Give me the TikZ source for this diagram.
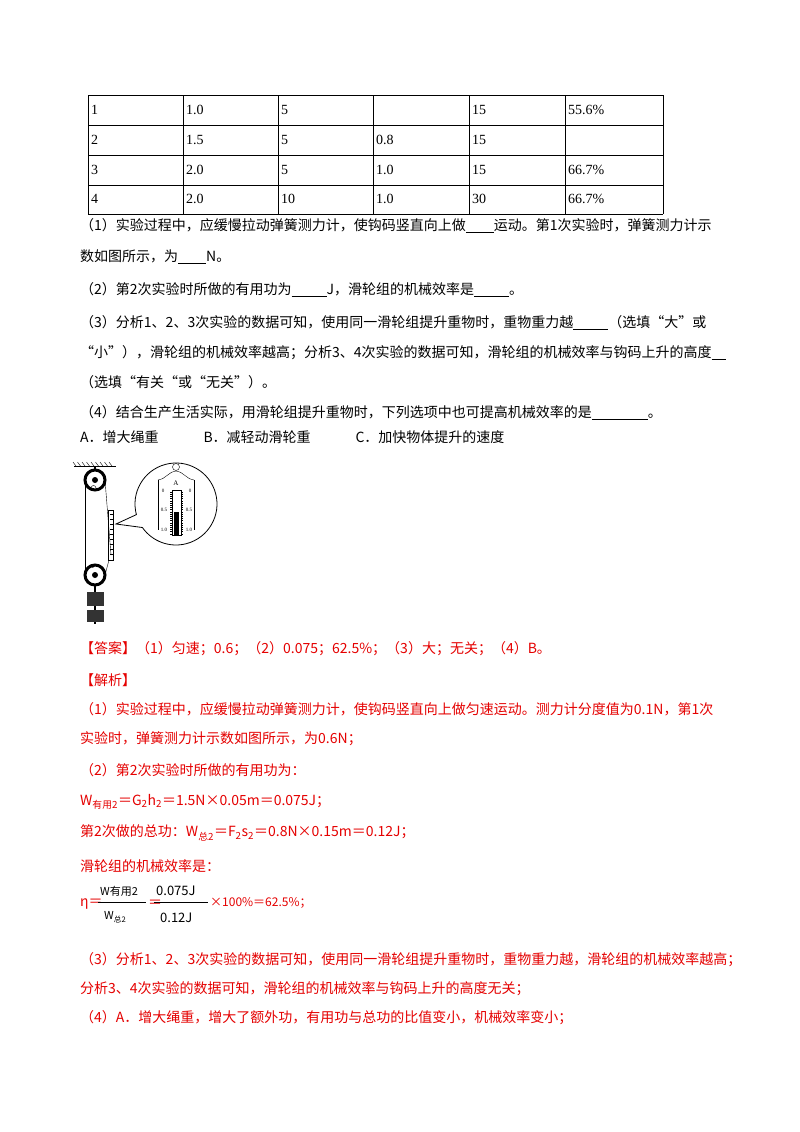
\documentclass[tikz,border=0pt]{standalone}
\usepackage{fontspec}
\usetikzlibrary{calc}
\setmainfont{Liberation Serif}
\newfontfamily\cjk{Noto Sans CJK SC}
\begin{document}
\begin{tikzpicture}[x=1pt,y=-1pt,
  ln/.style={anchor=west,inner sep=0,font=\cjk\fontsize{14}{16}\selectfont},
  rd/.style={ln,text=red!90!black},
  tc/.style={anchor=west,inner sep=0,font=\fontsize{14}{16}\selectfont}]
\useasboundingbox[fill=white] (0,0) rectangle (800,1132);
% table
\foreach \yy in {95,125,155,185,214} \draw (88,\yy)--(663,\yy);
\foreach \xx in {88,183,278,373,469,565,663} \draw (\xx,95)--(\xx,214);
\foreach \r/\yy/\a/\b/\c/\d/\e in {1/110/1.0/5/ /15/55.6\%,2/140/1.5/5/0.8/15/ ,3/170/2.0/5/1.0/15/66.7\%,4/199/2.0/10/1.0/30/66.7\%}{
  \node[tc] (r\r a) at (91,\yy) {\r};
  \node[tc] (r\r b) at (186,\yy) {\a};
  \node[tc] (r\r c) at (281,\yy) {\b};
  \node[tc] (r\r d) at (376,\yy) {\c};
  \node[tc] (r\r e) at (472,\yy) {\d};
  \node[tc] (r\r f) at (568,\yy) {\e};
}
\node[ln] (q1) at (80,226) {（1）实验过程中，应缓慢拉动弹簧测力计，使钩码竖直向上做\underline{\hspace{2em}}运动。第1次实验时，弹簧测力计示};
\node[ln] (q1b) at (80,257) {数如图所示，为\underline{\hspace{2em}}N。};
\node[ln] (q2) at (80,290) {（2）第2次实验时所做的有用功为\underline{\hspace{2.5em}}J，滑轮组的机械效率是\underline{\hspace{2.5em}}。};
\node[ln] (q3) at (80,323) {（3）分析1、2、3次实验的数据可知，使用同一滑轮组提升重物时，重物重力越\underline{\hspace{2.5em}}（选填“大”或};
\node[ln] (q3b) at (80,353) {“小”），滑轮组的机械效率越高；分析3、4次实验的数据可知，滑轮组的机械效率与钩码上升的高度\underline{\hspace{1em}}};
\node[ln] (q3c) at (80,382) {（选填“有关“或“无关”）。};
\node[ln] (q4) at (80,413) {（4）结合生产生活实际，用滑轮组提升重物时，下列选项中也可提高机械效率的是\underline{\hspace{4em}}。};
\node[ln] (opt) at (80,437) {A．增大绳重\hspace{3.2em}B．减轻动滑轮重\hspace{3.2em}C．加快物体提升的速度};
% figure
\draw[thick] (74,466)--(116,466);
\foreach \i in {0,...,8} \draw (76+4.5*\i,466)--(73+4.5*\i,462);
\draw[line width=1.5pt] (95,466)--(95,470);
\draw[line width=3pt] (95,480) circle (10);
\fill (95,480) circle (3);
\draw[line width=3pt] (95,575) circle (10);
\fill (95,575) circle (3);
\draw (85,480)--(85,575);
\draw (105,480)--(111,555) (109,560)--(105,575);
\draw (96,488) arc (0:-180:2.5);
\draw (95,565) arc (0:180:2.5);
\draw (108,510) rectangle (113,560);
\foreach \t in {0,...,8} \draw (110,514+5*\t)--(113,514+5*\t);
\draw[line width=1.5pt] (95,585)--(95,624);
\fill[black!80] (87,592) rectangle (104,606);
\fill[black!80] (87,610) rectangle (104,622);
% magnifier
\coordinate (mc) at (176,504);
\coordinate (tip) at (116,524);
\draw[thick] (tip) -- ($(mc)+(165:41)$) arc (165:505:41) -- cycle;
\draw (176,467) circle (3.5);
\draw (158,480) -- (158,530) (194,480)--(194,530);
\draw (158,480) .. controls (166,479) and (168,472) .. (176,471) .. controls (184,472) and (186,479) .. (194,480);
\node[inner sep=0,font=\scriptsize] (lA) at (176,483) {A};
\draw (172,490) rectangle (181,535);
\fill (174,512) rectangle (179,535);
\foreach \t in {0,...,19} \draw (170,492+2.2*\t)--(172,492+2.2*\t) (181,492+2.2*\t)--(183,492+2.2*\t);
\node[inner sep=0,font=\tiny] (l0) at (163,491) {0};
\node[inner sep=0,font=\tiny] (r0) at (190,491) {0};
\node[inner sep=0,font=\tiny] (l5) at (164,510) {0.5};
\node[inner sep=0,font=\tiny] (r5) at (189,510) {0.5};
\node[inner sep=0,font=\tiny] (l1) at (164,530) {1.0};
\node[inner sep=0,font=\tiny] (r1) at (189,530) {1.0};
% answer
\node[rd] (ans) at (80,649) {【答案】（1）匀速；0.6；（2）0.075；62.5\%；（3）大；无关；（4）B。};
\node[rd] (jx) at (80,680) {【解析】};
\node[rd] (a1) at (80,709) {（1）实验过程中，应缓慢拉动弹簧测力计，使钩码竖直向上做匀速运动。测力计分度值为0.1N，第1次};
\node[rd] (a1b) at (80,739) {实验时，弹簧测力计示数如图所示，为0.6N；};
\node[rd] (a2) at (80,770) {（2）第2次实验时所做的有用功为：};
\node[rd] (a2b) at (80,802) {W\textsubscript{有用2}＝G\textsubscript{2}h\textsubscript{2}＝1.5N×0.05m＝0.075J；};
\node[rd] (a2c) at (80,833) {第2次做的总功：W\textsubscript{总2}＝F\textsubscript{2}s\textsubscript{2}＝0.8N×0.15m＝0.12J；};
\node[rd] (a2d) at (80,866) {滑轮组的机械效率是：};
\node[rd] (eta) at (80,904) {η＝};
\node[ln,font=\cjk\fontsize{11}{12}\selectfont] (fn1) at (100,891) {W有用2};
\draw (98,902)--(146,902);
\node[ln,font=\cjk\fontsize{11}{12}\selectfont] (fd1) at (104,917) {W\textsubscript{总2}};
\node[rd] (eq2) at (148,904) {＝};
\node[ln,font=\cjk\fontsize{13}{14}\selectfont] (fn2) at (156,891) {0.075J};
\draw (154,902)--(208,902);
\node[ln,font=\cjk\fontsize{13}{14}\selectfont] (fd2) at (160,918) {0.12J};
\node[rd,font=\cjk\fontsize{12}{14}\selectfont] (rest) at (210,903) {×100\%＝62.5\%；};
\node[rd] (a3) at (80,960) {（3）分析1、2、3次实验的数据可知，使用同一滑轮组提升重物时，重物重力越，滑轮组的机械效率越高；};
\node[rd] (a3b) at (80,989) {分析3、4次实验的数据可知，滑轮组的机械效率与钩码上升的高度无关；};
\node[rd] (a4) at (80,1018) {（4）A．增大绳重，增大了额外功，有用功与总功的比值变小，机械效率变小；};
\end{tikzpicture}
\end{document}
